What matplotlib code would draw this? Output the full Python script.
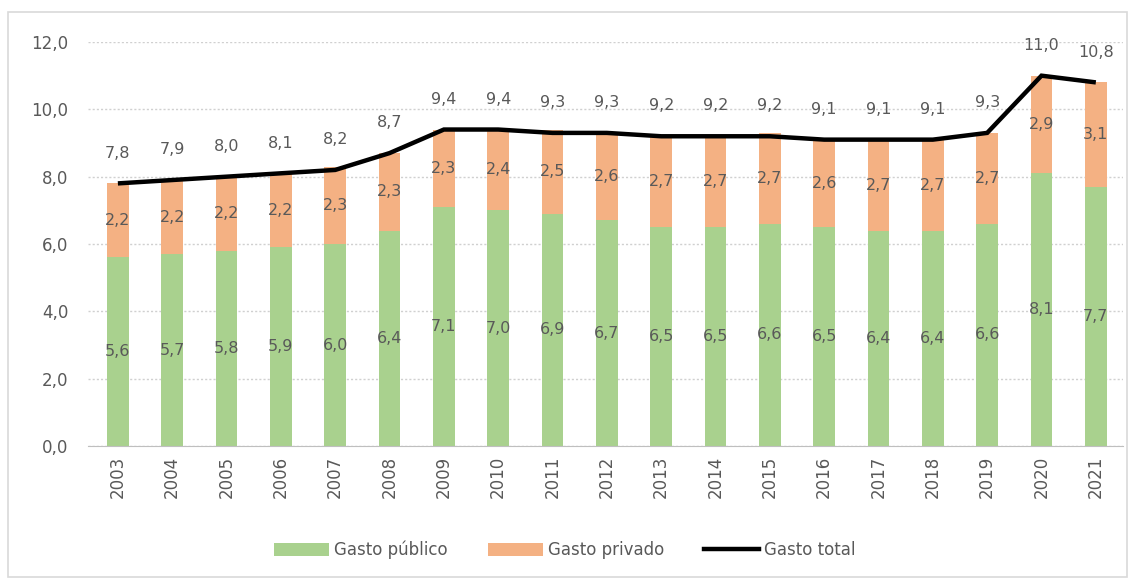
import matplotlib
matplotlib.use("Agg")
import matplotlib.pyplot as plt
from matplotlib.patches import Rectangle, Patch
from matplotlib.lines import Line2D
import numpy as np

years = ["2003", "2004", "2005", "2006", "2007", "2008", "2009", "2010", "2011",
         "2012", "2013", "2014", "2015", "2016", "2017", "2018", "2019", "2020", "2021"]
gasto_publico = [5.6, 5.7, 5.8, 5.9, 6.0, 6.4, 7.1, 7.0, 6.9, 6.7, 6.5, 6.5, 6.6,
                 6.5, 6.4, 6.4, 6.6, 8.1, 7.7]
gasto_privado = [2.2, 2.2, 2.2, 2.2, 2.3, 2.3, 2.3, 2.4, 2.5, 2.6, 2.7, 2.7, 2.7,
                 2.6, 2.7, 2.7, 2.7, 2.9, 3.1]
gasto_total = [7.8, 7.9, 8.0, 8.1, 8.2, 8.7, 9.4, 9.4, 9.3, 9.3, 9.2, 9.2, 9.2,
               9.1, 9.1, 9.1, 9.3, 11.0, 10.8]
y_ticks = [0, 2, 4, 6, 8, 10, 12]

GREEN = "#A9D18E"
ORANGE = "#F4B183"
TEXT = "#595959"

def fmt(v):
    return f"{v:.1f}".replace(".", ",")

fig = plt.figure(figsize=(11.35, 5.8), dpi=100)
fig.patches.append(Rectangle((8 / 1135, 3 / 580), 1119 / 1135, 565 / 580,
                             transform=fig.transFigure, fill=False,
                             edgecolor="#D9D9D9", linewidth=1.2))

ax = fig.add_axes([88 / 1135, 134 / 580, 1035 / 1135, 404 / 580])
x = np.arange(len(years))
pub = np.array(gasto_publico)
priv = np.array(gasto_privado)

ax.bar(x, pub, width=0.4, color=GREEN, zorder=2)
ax.bar(x, priv, width=0.4, bottom=pub, color=ORANGE, zorder=2)
ax.plot(x, gasto_total, color="black", linewidth=3.2, zorder=3,
        solid_capstyle="butt", solid_joinstyle="miter")

for i in range(len(years)):
    ax.text(x[i], pub[i] / 2, fmt(pub[i]), ha="center", va="center",
            fontsize=11.5, color=TEXT, zorder=4)
    ax.text(x[i], pub[i] + priv[i] / 2, fmt(priv[i]), ha="center", va="center",
            fontsize=11.5, color=TEXT, zorder=4)
    ax.text(x[i], gasto_total[i] + 0.9, fmt(gasto_total[i]), ha="center",
            va="center", fontsize=11.5, color=TEXT, zorder=4)

ax.set_xlim(-0.55, 18.5)
ax.set_ylim(0, 12)
ax.set_yticks(y_ticks)
ax.set_yticklabels([fmt(v) for v in y_ticks], fontsize=12, color=TEXT)
ax.set_xticks(x)
ax.set_xticklabels(years, rotation=90, fontsize=12, color=TEXT)
ax.tick_params(length=0, pad=14, axis="y")
ax.tick_params(length=0, pad=7, axis="x")
ax.yaxis.grid(True, color="#D0D0D0", linestyle=(0, (1.5, 1.5)), linewidth=1, zorder=0)
for s in ["top", "right", "left"]:
    ax.spines[s].set_visible(False)
ax.spines["bottom"].set_color("#BFBFBF")
ax.set_axisbelow(True)

handles = [Patch(facecolor=GREEN, edgecolor="none"),
           Patch(facecolor=ORANGE, edgecolor="none"),
           Line2D([0], [0], color="black", linewidth=3.2)]
fig.legend(handles, ["Gasto público", "Gasto privado", "Gasto total"],
           loc="center", bbox_to_anchor=(565 / 1135, 1 - 550 / 580), ncol=3,
           frameon=False, fontsize=12, labelcolor=TEXT, handlelength=3.3,
           handleheight=0.9, handletextpad=0.3, columnspacing=2.4)

fig.savefig("out.png", dpi=100, facecolor="white")
